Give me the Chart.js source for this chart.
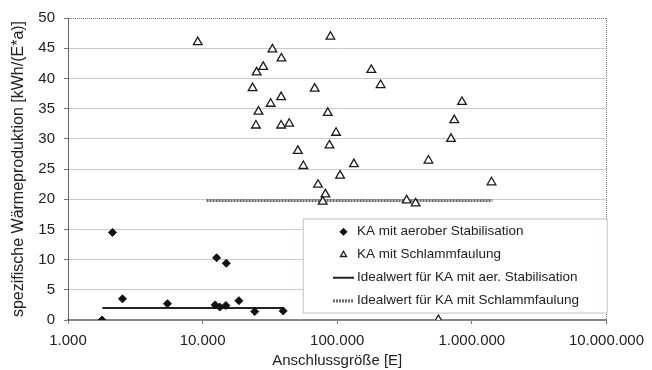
<!DOCTYPE html>
<html lang="de">
<head>
<meta charset="utf-8">
<script src="https://cdn.jsdelivr.net/npm/chart.js@4/dist/chart.umd.min.js"></script>
<style>
  html, body { margin: 0; padding: 0; background: #fff; }
  #wrap { width: 652px; height: 370px; }
</style>
</head>
<body>
<div id="wrap"><canvas id="chart" width="652" height="370"></canvas></div>
<script>
// KA mit aerober Stabilisation: Anschlussgröße [E] / spez. Wärmeproduktion [kWh/(E*a)]
const aerobX = [1790, 2140, 2540, 5480, 12700, 15000, 12400, 13400, 14900, 18600, 24400, 39700];
const aerobY = [0, 14.5, 3.5, 2.7, 10.3, 9.4, 2.5, 2.15, 2.4, 3.2, 1.4, 1.5];

// KA mit Schlammfaulung
const faulX = [9200, 33000, 38500, 25200, 28200, 23500, 68000, 26000, 32000, 38300, 24900, 38300,
  44000, 51000, 56000, 72000, 89000, 179000, 210000, 845000, 85000, 740000, 98000, 700000,
  87500, 133000, 476000, 105000, 1400000, 81700, 78000, 328000, 382000, 565000];
const faulY = [46.0, 44.8, 43.3, 41.0, 41.9, 38.4, 38.3, 34.5, 35.8, 36.9, 32.2, 32.2,
  32.5, 28.0, 25.5, 22.4, 46.9, 41.4, 38.9, 36.1, 34.3, 33.1, 31.0, 30.0,
  28.9, 25.8, 26.4, 23.9, 22.8, 20.8, 19.6, 19.8, 19.3, 0];

// Idealwerte (Anfang und Ende der Linie)
const idealAerobX = [1800, 40000];
const idealAerobY = [2, 2];
const idealFaulX = [10700, 1420000];
const idealFaulY = [19.8, 19.8];

const seriesNames = [
  'KA mit aerober Stabilisation',
  'KA mit Schlammfaulung',
  'Idealwert für KA mit aer. Stabilisation',
  'Idealwert für KA mit Schlammfaulung'
];
const xTicks = [1000, 10000, 100000, 1000000, 10000000];
const yMin = 0, yMax = 50, yStep = 5;

const toPoints = (xs, ys) => xs.map((x, i) => ({ x, y: ys[i] }));
const fmt = v => String(v).replace(/\B(?=(\d{3})+(?!\d))/g, '.');

const FONT = "'Liberation Sans', Arial, sans-serif";
const gridColor = '#c2cece';
const frameColor = '#777';

// kleines Linienstück als Legendensymbol
function lineSymbol(color, width, dash) {
  const c = document.createElement('canvas');
  c.width = 21;
  c.height = 4;
  const g = c.getContext('2d');
  g.strokeStyle = color;
  g.lineWidth = width;
  g.setLineDash(dash || []);
  g.beginPath();
  g.moveTo(0, 2);
  g.lineTo(21, 2);
  g.stroke();
  return c;
}

// Legende in den Plotbereich schieben und mit weißem Kasten hinterlegen
const legendBox = {
  id: 'legendBox',
  afterLayout(chart) {
    const lg = chart.legend;
    lg.left = 327.25;
    lg.top = 215.5;
    lg.right = lg.left + lg.width;
    lg.bottom = lg.top + lg.height;
    if (!lg._boxWrapped) {
      const orig = lg.draw;
      lg.draw = function () {
        const c = this.ctx;
        c.save();
        c.fillStyle = '#fff';
        c.strokeStyle = '#b9c6c6';
        c.lineWidth = 1;
        c.fillRect(this.left - 24, this.top + 3.5, 304, 94);
        c.strokeRect(this.left - 24, this.top + 3.5, 304, 94);
        c.restore();
        orig.apply(this, arguments);
      };
      lg._boxWrapped = true;
    }
  }
};

new Chart(document.getElementById('chart'), {
  type: 'scatter',
  data: {
    datasets: [{
      label: seriesNames[0],
      data: toPoints(aerobX, aerobY),
      pointStyle: 'rectRot',
      pointRadius: 4,
      backgroundColor: '#111',
      borderColor: '#111',
      borderWidth: 1
    }, {
      label: seriesNames[1],
      data: toPoints(faulX, faulY),
      pointStyle: 'triangle',
      pointRadius: 5,
      backgroundColor: '#fff',
      borderColor: '#1a1a1a',
      borderWidth: 1.3
    }, {
      label: seriesNames[2],
      data: toPoints(idealAerobX, idealAerobY),
      showLine: true,
      pointRadius: 0,
      pointStyle: 'line',
      borderColor: '#222',
      borderWidth: 2
    }, {
      label: seriesNames[3],
      data: toPoints(idealFaulX, idealFaulY),
      showLine: true,
      pointRadius: 0,
      pointStyle: 'line',
      borderColor: '#666',
      borderWidth: 3,
      borderDash: [2, 1]
    }]
  },
  options: {
    responsive: false,
    animation: false,
    events: [],
    layout: { padding: { top: 11, right: 0, left: 0, bottom: 0 } },
    scales: {
      x: {
        type: 'logarithmic',
        min: 1000,
        max: 10000000,
        afterBuildTicks: s => { s.ticks = xTicks.map(v => ({ value: v })); },
        afterFit: s => { s.height = 50; },
        ticks: {
          callback: v => fmt(v),
          color: '#222',
          padding: 8,
          maxRotation: 0,
          autoSkip: false,
          font: { family: FONT, size: 15 }
        },
        grid: {
          color: c => (c.tick && c.tick.value === 10000000) ? frameColor : 'transparent',
          tickColor: frameColor,
          tickLength: 4,
          lineWidth: 1
        },
        border: {
          color: '#858585',
          width: 2,
          dash: c => c.tick ? [1, 1] : [3, 1]
        },
        title: {
          display: true,
          text: 'Anschlussgröße [E]',
          color: '#222',
          padding: { top: 0, bottom: 0 },
          font: { family: FONT, size: 15 }
        }
      },
      y: {
        min: yMin,
        max: yMax,
        afterFit: s => { s.width = 68; },
        ticks: {
          stepSize: yStep,
          color: '#222',
          padding: 9,
          font: { family: FONT, size: 15 }
        },
        grid: {
          color: c => {
            if (!c.tick) return gridColor;
            if (c.tick.value === yMax) return frameColor;
            if (c.tick.value === yMin) return 'transparent';
            return gridColor;
          },
          tickColor: frameColor,
          tickLength: 4,
          lineWidth: 1
        },
        border: {
          color: '#666',
          width: 1,
          dash: c => (c.tick && c.tick.value === yMax) ? [1, 1] : []
        },
        title: {
          display: true,
          text: 'spezifische Wärmeproduktion [kWh/(E*a)]',
          color: '#222',
          padding: { top: 9, bottom: 0 },
          font: { family: FONT, size: 16 }
        }
      }
    },
    plugins: {
      tooltip: { enabled: false },
      legend: {
        position: 'chartArea',
        align: 'start',
        labels: {
          usePointStyle: true,
          boxHeight: 5,
          padding: 9.5,
          color: '#222',
          font: { family: FONT, size: 13.5 },
          generateLabels: chart => {
            const items = Chart.defaults.plugins.legend.labels.generateLabels(chart);
            items.forEach((it, i) => {
              const ds = chart.data.datasets[i];
              if (ds.pointStyle === 'line') {
                it.pointStyle = lineSymbol(ds.borderColor, ds.borderWidth, ds.borderDash);
              }
            });
            return items;
          }
        }
      }
    }
  },
  plugins: [legendBox]
});
</script>
</body>
</html>
